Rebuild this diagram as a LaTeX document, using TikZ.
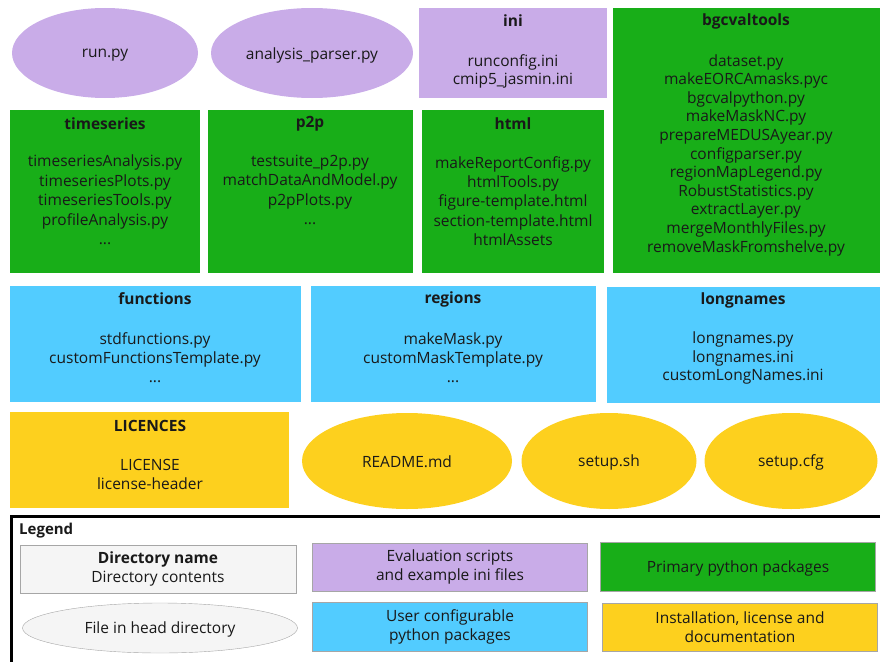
\documentclass[tikz,border=0pt]{standalone}
\usepackage{fontspec}
\setmainfont{Open Sans}
\usetikzlibrary{shapes.geometric}
\definecolor{cpurple}{RGB}{201,172,232}
\definecolor{cgreen}{RGB}{24,174,24}
\definecolor{ccyan}{RGB}{82,204,255}
\definecolor{cyellow}{RGB}{253,208,30}
\definecolor{clgray}{RGB}{245,245,245}
\definecolor{ctext}{RGB}{25,25,25}
\tikzset{
  fileell/.style={ellipse,draw=none,inner sep=0pt},
  ftxt/.style={inner sep=0pt,text=ctext,font=\fontsize{15.5}{18}\selectfont},
  ttl/.style={font=\fontsize{15.5}{18}\selectfont\bfseries,text=ctext,inner sep=0pt,yshift=-1pt},
  cnt/.style={align=center,text=ctext,inner sep=0pt,yshift=-2pt},
  legbox/.style={rectangle,inner sep=0pt,align=center,text=ctext,font=\fontsize{15.5}{19}\selectfont},
}
\begin{document}
\begin{tikzpicture}[x=1pt,y=-1pt]
\useasboundingbox (0,0) rectangle (880,661);
\clip (0,0) rectangle (880,661);
% row 1
\node[fileell,fill=cpurple,minimum width=186,minimum height=90] (run) at (105,53) {};
\node[ftxt] (runt) at (105,55) {run.py};
\node[fileell,fill=cpurple,minimum width=202,minimum height=90] (ap) at (312,53) {};
\node[ftxt] (apt) at (312,55) {analysis\_parser.py};
\path[fill=cpurple] (419,8) rectangle (607,98);
\node[ttl] (initl) at (513,20) {ini};
\node[cnt,font=\fontsize{15.5}{18}\selectfont] (inic) at (513,69) {runconfig.ini\\cmip5\_jasmin.ini};
\path[fill=cgreen] (613,8) rectangle (880,273);
\node[ttl] (bgtl) at (746,20) {bgcvaltools};
\node[cnt,font=\fontsize{15.5}{18.6}\selectfont] (bgc) at (746,153) {dataset.py\\makeEORCAmasks.pyc\\bgcvalpython.py\\makeMaskNC.py\\prepareMEDUSAyear.py\\configparser.py\\regionMapLegend.py\\RobustStatistics.py\\extractLayer.py\\mergeMonthlyFiles.py\\removeMaskFromshelve.py};
% row 2
\path[fill=cgreen] (10,110) rectangle (200,273);
\node[ttl] (tstl) at (105,123) {timeseries};
\node[cnt,font=\fontsize{15.5}{19.5}\selectfont] (tsc) at (105,198) {timeseriesAnalysis.py\\timeseriesPlots.py\\timeseriesTools.py\\profileAnalysis.py\\...};
\path[fill=cgreen] (208,110) rectangle (413,273);
\node[ttl] (pptl) at (310,123) {p2p};
\node[cnt,font=\fontsize{15.5}{19.5}\selectfont] (ppc) at (310,188) {testsuite\_p2p.py\\matchDataAndModel.py\\p2pPlots.py\\...};
\path[fill=cgreen] (422,110) rectangle (604,273);
\node[ttl] (htl) at (513,123) {html};
\node[cnt,font=\fontsize{15.5}{19.2}\selectfont] (hc) at (513,199) {makeReportConfig.py\\htmlTools.py\\figure-template.html\\section-template.html\\htmlAssets};
% row 3
\path[fill=ccyan] (10,286) rectangle (301,402);
\node[ttl] (ftl) at (155,298) {functions};
\node[cnt,font=\fontsize{15.5}{19}\selectfont] (fc) at (155,356) {stdfunctions.py\\customFunctionsTemplate.py\\...};
\path[fill=ccyan] (311,286) rectangle (596,402);
\node[ttl] (rtl) at (453,298) {regions};
\node[cnt,font=\fontsize{15.5}{19}\selectfont] (rc) at (453,356) {makeMask.py\\customMaskTemplate.py\\...};
\path[fill=ccyan] (607,287) rectangle (880,403);
\node[ttl] (ltl) at (743,299) {longnames};
\node[cnt,font=\fontsize{15.5}{18.5}\selectfont] (lc) at (743,356) {longnames.py\\longnames.ini\\customLongNames.ini};
% row 4
\path[fill=cyellow] (10,412) rectangle (289,508);
\node[ttl] (lictl) at (150,425) {LICENCES};
\node[cnt,font=\fontsize{15.5}{19}\selectfont] (licc) at (150,472) {LICENSE\\license-header};
\node[fileell,fill=cyellow,minimum width=210,minimum height=96] (readme) at (407,461) {};
\node[ftxt] (readmet) at (407,462) {README.md};
\node[fileell,fill=cyellow,minimum width=175,minimum height=96] (ssh) at (609,461) {};
\node[ftxt] (ssht) at (609,462) {setup.sh};
\node[fileell,fill=cyellow,minimum width=173,minimum height=96] (scfg) at (791,461) {};
\node[ftxt] (scfgt) at (791,462) {setup.cfg};
% legend
\draw[line width=3pt,black] (11,516) rectangle (900,700);
\node[anchor=west,inner sep=0pt,text=ctext,font=\fontsize{15}{18}\selectfont\bfseries] (leg) at (19,531) {Legend};
\node[legbox,draw=gray!70,fill=clgray,minimum width=276,minimum height=48] (ldir) at (158,569) {\textbf{Directory name}\\Directory contents};
\node[fileell,draw=gray!70,fill=clgray,minimum width=275,minimum height=50] (lfile) at (160,628) {};
\node[ftxt] (lfilet) at (160,629) {File in head directory};
\node[legbox,draw=gray!70,fill=cpurple,minimum width=275,minimum height=48] (leval) at (450,567) {Evaluation scripts\\and example ini files};
\node[legbox,draw=gray!70,fill=cgreen,minimum width=275,minimum height=49] (lprim) at (738,567) {};
\node[ftxt] (lprimt) at (738,568) {Primary python packages};
\node[legbox,draw=gray!70,fill=ccyan,minimum width=275,minimum height=49] (luser) at (450,627) {User configurable\\python packages};
\node[legbox,draw=gray!70,fill=cyellow,minimum width=275,minimum height=48] (linst) at (740,627) {Installation, license and\\documentation};
\end{tikzpicture}
\end{document}
